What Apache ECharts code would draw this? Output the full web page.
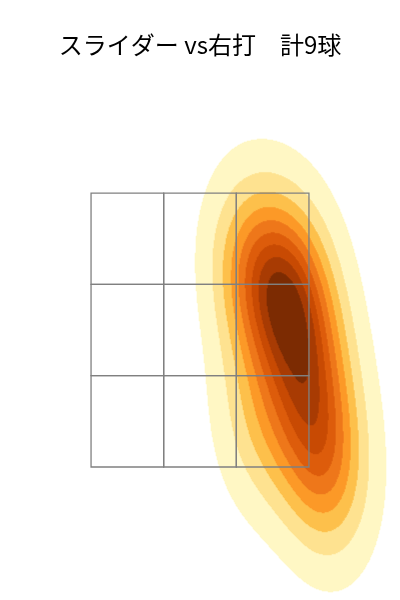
<!DOCTYPE html>
<html><head><meta charset="utf-8">
<script src="https://cdn.jsdelivr.net/npm/echarts@6/dist/echarts.min.js"></script>
<style>html,body{margin:0;padding:0;background:#fff}#c{width:400px;height:600px}</style>
</head><body><div id="c"></div>
<script>
const TITLE = 'スライダー vs右打　計9球';
// pitch locations (cm): horizontal offset from plate centre, height above ground
const PITCH_X = [10.3, 17.8, 11.9, 19.4, 20.2, 23.0, 11.9, 24.0, 25.0];
const PITCH_Y = [87.5, 85.6, 79.6, 79.0, 69.2, 60.9, 54.3, 49.0, 42.8];
// Gaussian kernel bandwidth (cm) and correlation
const KERNEL_SX = 6.3, KERNEL_SY = 12.7, KERNEL_RHO = -0.12;
// strike zone boundaries (cm)
const ZONE_X = [-21.6, -7.2, 7.2, 21.6];
const ZONE_Y = [46.0, 64.1, 82.2, 100.3];
// iso-proportion levels of the density (thresh 0.05, 10 levels)
const LEVEL_PROPS = [0.05, 0.1556, 0.2611, 0.3667, 0.4722, 0.5778, 0.6833, 0.7889, 0.8944, 1.0];
const BAND_COLORS = ['#fff7c4', '#fee290', '#fdc04d', '#fc9a2b', '#ef7a1d', '#de5f0f', '#c84c06', '#a83e06', '#7f2e05'];
// extents (cm): full plot and density raster
const X_RANGE = [-39.65, 39.65];
const Y_RANGE = [19.64, 118.74];
const DX_RANGE = [-9.91, 39.65];
const DY_RANGE = [19.64, 114.78];
const NX = 250, NY = 480;

// --- Gaussian kernel density ---
const n = PITCH_X.length;
const cxx = KERNEL_SX * KERNEL_SX, cyy = KERNEL_SY * KERNEL_SY, cxy = KERNEL_RHO * KERNEL_SX * KERNEL_SY;
const det = cxx * cyy - cxy * cxy;
const ixx = cyy / det, iyy = cxx / det, ixy = -cxy / det;
const norm = 1 / (2 * Math.PI * Math.sqrt(det) * n);
function dens(x, y) {
  let s = 0;
  for (let i = 0; i < n; i++) {
    const dx = x - PITCH_X[i], dy = y - PITCH_Y[i];
    s += Math.exp(-0.5 * (ixx * dx * dx + 2 * ixy * dx * dy + iyy * dy * dy));
  }
  return s * norm;
}
const cw = (DX_RANGE[1] - DX_RANGE[0]) / NX, ch = (DY_RANGE[1] - DY_RANGE[0]) / NY;
const xCats = [], yCats = [];
for (let i = 0; i < NX; i++) xCats.push(i);
for (let j = 0; j < NY; j++) yCats.push(j);
const grid = [];
const all = [];
for (let i = 0; i < NX; i++) {
  for (let j = 0; j < NY; j++) {
    const d = dens(DX_RANGE[0] + (i + 0.5) * cw, DY_RANGE[0] + (j + 0.5) * ch);
    grid.push([i, j, d]);
    all.push(d);
  }
}
const sorted = all.slice().sort((a, b) => b - a);
const total = sorted.reduce((a, b) => a + b, 0);
const cum = []; let acc = 0;
for (const v of sorted) { acc += v; cum.push(acc / total); }
const levels = LEVEL_PROPS.map(p => {
  const t = 1 - p;
  let idx = cum.findIndex(c => c >= t);
  if (idx < 0) idx = sorted.length - 1;
  return sorted[idx];
});
const cells = grid.filter(c => c[2] >= levels[0]);
const pieces = BAND_COLORS.map((col, k) => (
  k < BAND_COLORS.length - 1 ? { gte: levels[k], lt: levels[k + 1], color: col } : { gte: levels[k], color: col }
));
const zoneCells = [];
for (let a = 0; a < 3; a++) for (let b = 0; b < 3; b++) {
  zoneCells.push([ZONE_X[a], ZONE_X[a + 1], ZONE_Y[b], ZONE_Y[b + 1]]);
}

const chart = echarts.init(document.getElementById('c'), null, { renderer: 'canvas' });
chart.setOption({
  animation: false,
  backgroundColor: '#ffffff',
  title: {
    text: TITLE, left: 'center', top: 28,
    textStyle: { fontFamily: 'Noto Sans CJK JP', fontSize: 24, fontWeight: 'normal', color: '#000' }
  },
  grid: [
    { left: 150, width: 250, top: 120, height: 480 },
    { left: 0, width: 400, top: 100, height: 500 }
  ],
  xAxis: [
    { type: 'category', gridIndex: 0, data: xCats, show: false, boundaryGap: true },
    { type: 'value', gridIndex: 1, min: X_RANGE[0], max: X_RANGE[1], show: false }
  ],
  yAxis: [
    { type: 'category', gridIndex: 0, data: yCats, show: false, boundaryGap: true },
    { type: 'value', gridIndex: 1, min: Y_RANGE[0], max: Y_RANGE[1], show: false }
  ],
  visualMap: { type: 'piecewise', show: false, dimension: 2, seriesIndex: 0, pieces: pieces },
  series: [
    {
      type: 'heatmap', data: cells, xAxisIndex: 0, yAxisIndex: 0,
      progressive: 0, silent: true, emphasis: { disabled: true }
    },
    {
      type: 'custom', xAxisIndex: 1, yAxisIndex: 1, z: 5, silent: true, clip: false,
      data: zoneCells,
      renderItem: function (params, api) {
        const p0 = api.coord([api.value(0), api.value(3)]);
        const p1 = api.coord([api.value(1), api.value(2)]);
        return {
          type: 'rect',
          shape: { x: p0[0], y: p0[1], width: p1[0] - p0[0], height: p1[1] - p0[1] },
          style: { fill: null, stroke: '#808080', lineWidth: 1.3 }
        };
      }
    }
  ]
});
</script></body></html>
